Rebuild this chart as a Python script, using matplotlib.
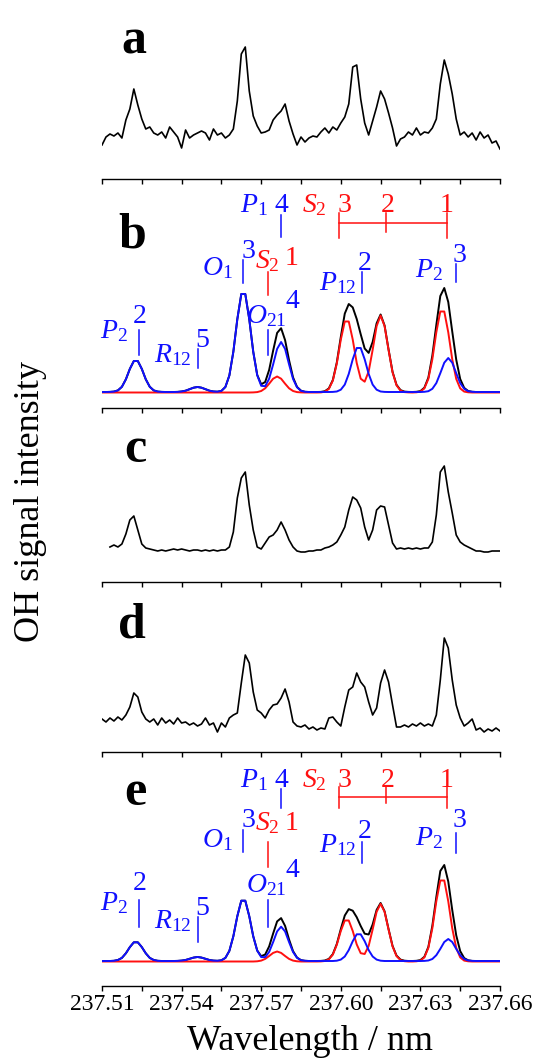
import numpy as np
import matplotlib
matplotlib.use("Agg")
import matplotlib.pyplot as plt
from matplotlib.ticker import FixedLocator

plt.rcParams['font.family'] = ['Liberation Serif', 'DejaVu Serif']
plt.rcParams['mathtext.fontset'] = 'custom'
plt.rcParams['mathtext.rm'] = 'Liberation Serif'
plt.rcParams['mathtext.it'] = 'Liberation Serif:italic'
plt.rcParams['mathtext.bf'] = 'Liberation Serif:bold'

# ---------------------------------------------------------------- data
# detector sampling: 101 points from 237.51 to 237.66 nm (step 0.0015 nm)
wavelength = np.linspace(237.51, 237.66, 101)

# measured LIF spectra (arb. units)
spec_a = [34, 42, 45, 43, 46, 41, 59, 70, 90, 74,
          60, 50, 52, 46, 44, 47, 41, 52, 47, 42,
          31, 49, 41, 44, 46, 48, 46, 39, 50, 44,
          46, 41, 44, 50, 78, 125, 132, 88, 63, 53,
          46, 47, 49, 59, 64, 68, 75, 58, 45, 34,
          42, 37, 41, 43, 42, 47, 51, 46, 52, 49,
          56, 62, 75, 112, 114, 80, 56, 44, 58, 72,
          88, 80, 66, 51, 33, 40, 42, 47, 44, 51,
          44, 47, 46, 51, 60, 95, 119, 105, 85, 60,
          44, 47, 42, 46, 39, 47, 41, 44, 36, 38,
          30]

# spectrum c starts at the third sample
spec_c = [35, 37, 35, 38, 48, 62, 66, 52,
          38, 34, 33, 32, 31, 32, 31, 32, 33, 32,
          33, 32, 31, 32, 32, 31, 32, 31, 32, 31,
          32, 32, 35, 50, 84, 104, 110, 77, 52, 35,
          33, 39, 45, 47, 52, 60, 52, 42, 35, 31,
          30, 30, 31, 31, 32, 32, 34, 35, 37, 40,
          47, 55, 72, 85, 82, 74, 55, 42, 52, 72,
          76, 75, 57, 39, 33, 34, 33, 34, 33, 34,
          33, 34, 34, 40, 67, 110, 116, 90, 69, 47,
          40, 37, 35, 33, 31, 31, 30, 30, 31, 31,
          31]

spec_d = [33, 30, 34, 31, 35, 32, 37, 45, 59, 55,
          40, 33, 30, 33, 27, 34, 29, 32, 28, 34,
          29, 30, 27, 29, 26, 28, 34, 27, 29, 20,
          29, 25, 34, 37, 39, 69, 97, 89, 60, 42,
          39, 34, 42, 47, 48, 54, 63, 50, 30, 26,
          25, 27, 23, 25, 22, 24, 23, 34, 35, 30,
          26, 45, 62, 65, 79, 70, 65, 50, 37, 44,
          69, 82, 70, 47, 25, 25, 27, 25, 28, 26,
          29, 26, 28, 26, 37, 72, 114, 104, 72, 47,
          34, 26, 29, 33, 22, 24, 20, 23, 21, 24,
          21]

# simulated spectra: blue / red components and their total (black)
sim_b_blue = [16, 16, 16.1, 16.4, 17.6, 21.2, 28.7, 39.1, 47.0, 47.0,
              39.1, 28.7, 21.2, 17.6, 16.4, 16.1, 16, 16, 16, 16.1,
              16.5, 17.3, 18.8, 20.3, 21.0, 20.3, 18.8, 17.3, 16.5, 16.3,
              17.1, 21.0, 32.5, 56.2, 88.8, 114.0, 114.0, 88.8, 56.2, 32.7,
              22.2, 21.8, 29.3, 43.6, 59.1, 66.0, 59.1, 43.6, 29.1, 20.7,
              17.2, 16.2, 16, 16, 16, 16, 16, 16, 16.1, 16.5,
              18.3, 23.4, 34.1, 48.7, 60.0, 60.0, 48.7, 34.1, 23.4, 18.3,
              16.5, 16.1, 16, 16, 16, 16, 16, 16, 16, 16,
              16, 16.2, 16.8, 19.2, 24.9, 34.8, 45.3, 50.0, 45.3, 34.8,
              24.9, 19.2, 16.8, 16.2, 16, 16, 16, 16, 16, 16,
              16]
sim_b_red = [15.5, 15.5, 15.5, 15.5, 15.5, 15.5, 15.5, 15.5, 15.5, 15.5,
             15.5, 15.5, 15.5, 15.5, 15.5, 15.5, 15.5, 15.5, 15.5, 15.5,
             15.5, 15.5, 15.5, 15.5, 15.5, 15.5, 15.5, 15.5, 15.5, 15.5,
             15.5, 15.5, 15.5, 15.5, 15.5, 15.5, 15.5, 15.5, 15.6, 15.9,
             17.0, 19.7, 24.3, 29.3, 31.5, 29.3, 24.3, 19.7, 17.0, 15.9,
             15.6, 15.5, 15.5, 15.5, 15.5, 15.6, 16.3, 19.1, 27.4, 44.6,
             68.3, 86.5, 86.5, 68.4, 45.0, 29.3, 26.3, 36.5, 58.1, 81.9,
             92.5, 81.9, 58.0, 35.7, 22.7, 17.4, 15.9, 15.6, 15.5, 15.7,
             16.4, 19.6, 29.1, 48.7, 75.7, 96.5, 96.5, 75.7, 48.7, 29.1,
             19.6, 16.4, 15.7, 15.5, 15.5, 15.5, 15.5, 15.5, 15.5, 15.5,
             15.5]
sim_b_total = [16, 16, 16.1, 16.4, 17.6, 21.2, 28.7, 39.1, 47.0, 47.0,
               39.1, 28.7, 21.2, 17.6, 16.4, 16.1, 16, 16, 16, 16.1,
               16.5, 17.3, 18.8, 20.3, 21.0, 20.3, 18.8, 17.3, 16.5, 16.3,
               17.1, 21.0, 32.5, 56.2, 88.8, 114.0, 114.0, 88.8, 56.3, 33.1,
               23.7, 26.0, 38.1, 57.4, 75.1, 79.8, 67.9, 47.8, 30.6, 21.1,
               17.3, 16.2, 16, 16, 16, 16.1, 16.8, 19.6, 28.0, 45.6,
               71.1, 94.4, 104.0, 100.6, 89.0, 73.8, 59.5, 55.1, 66.0, 84.7,
               93.5, 82.5, 58.5, 36.2, 23.2, 17.9, 16.4, 16.1, 16, 16.2,
               16.9, 20.3, 30.4, 52.4, 83.0, 112.0, 120.0, 106.0, 76.5, 48.4,
               29.0, 20.1, 17.0, 16.2, 16, 16, 16, 16, 16, 16,
               16]

sim_e_blue = [25, 25, 25.0, 25.2, 26.0, 28.1, 32.7, 38.9, 43.7, 43.7,
              38.9, 32.7, 28.1, 26.0, 25.2, 25.0, 25, 25, 25, 25.1,
              25.4, 26.0, 27.2, 28.4, 29.0, 28.4, 27.2, 26.0, 25.4, 25.2,
              25.7, 28.1, 35.1, 49.7, 69.8, 85.3, 85.3, 69.8, 49.7, 35.3,
              28.9, 28.9, 34.1, 43.9, 54.6, 59.3, 54.6, 43.9, 34.0, 28.2,
              25.8, 25.2, 25, 25, 25, 25, 25, 25, 25.0, 25.3,
              26.4, 29.5, 35.9, 44.8, 51.7, 51.7, 44.8, 35.9, 29.5, 26.4,
              25.3, 25.0, 25, 25, 25, 25, 25, 25, 25, 25,
              25, 25.1, 25.5, 27.0, 30.8, 37.1, 44.0, 47.0, 44.0, 37.1,
              30.8, 27.0, 25.5, 25.1, 25, 25, 25, 25, 25, 25,
              25]
sim_e_red = [24.5, 24.5, 24.5, 24.5, 24.5, 24.5, 24.5, 24.5, 24.5, 24.5,
             24.5, 24.5, 24.5, 24.5, 24.5, 24.5, 24.5, 24.5, 24.5, 24.5,
             24.5, 24.5, 24.5, 24.5, 24.5, 24.5, 24.5, 24.5, 24.5, 24.5,
             24.5, 24.5, 24.5, 24.5, 24.5, 24.5, 24.5, 24.5, 24.5, 24.7,
             25.4, 27.1, 30.0, 33.1, 34.5, 33.1, 30.0, 27.1, 25.4, 24.7,
             24.5, 24.5, 24.5, 24.5, 24.5, 24.6, 25.0, 26.6, 31.4, 41.3,
             55.0, 65.5, 65.5, 55.0, 41.6, 32.8, 32.0, 40.1, 56.5, 74.2,
             82.2, 74.2, 56.4, 39.6, 29.9, 25.9, 24.8, 24.5, 24.5, 24.7,
             25.4, 28.6, 38.1, 57.7, 84.7, 105.5, 105.5, 84.7, 57.7, 38.1,
             28.6, 25.4, 24.7, 24.5, 24.5, 24.5, 24.5, 24.5, 24.5, 24.5,
             24.5]
sim_e_total = [25, 25, 25.0, 25.2, 26.0, 28.1, 32.7, 38.9, 43.7, 43.7,
               38.9, 32.7, 28.1, 26.0, 25.2, 25.0, 25, 25, 25, 25.1,
               25.4, 26.0, 27.2, 28.4, 29.0, 28.4, 27.2, 26.0, 25.4, 25.2,
               25.7, 28.1, 35.1, 49.7, 69.8, 85.3, 85.3, 69.8, 49.7, 35.5,
               29.8, 31.5, 39.6, 52.5, 64.6, 67.9, 60.1, 46.5, 34.9, 28.4,
               25.8, 25.2, 25, 25, 25, 25.1, 25.5, 27.1, 31.9, 42.1,
               56.9, 70.5, 76.9, 75.3, 68.8, 60.0, 52.3, 51.5, 61.5, 76.1,
               83.0, 74.7, 56.9, 40.1, 30.4, 26.4, 25.3, 25.0, 25, 25.2,
               25.9, 29.2, 39.1, 60.2, 89.0, 115.0, 121.0, 104.5, 76.0, 50.7,
               34.9, 27.9, 25.7, 25.1, 25, 25, 25, 25, 25, 25,
               25]

major_ticks = [237.51, 237.54, 237.57, 237.60, 237.63, 237.66]
minor_ticks = [237.525, 237.555, 237.585, 237.615, 237.645]
tick_labels = ["237.51", "237.54", "237.57", "237.60", "237.63", "237.66"]

# ---------------------------------------------------------------- layout
W, H = 535, 1059
BLUE = '#1010ff'
RED = '#ff1010'
AX_H = 150  # axes height in pixels; y data are in the same units
FS_LAB = 20

fig = plt.figure(figsize=(W / 100, H / 100), dpi=100)


def make_axes(axis_y):
    ax = fig.add_axes([102 / W, 1 - axis_y / H, 398 / W, AX_H / H])
    ax.set_xlim(237.51, 237.66)
    ax.set_ylim(0, AX_H)
    ax.patch.set_alpha(0)
    for s in ('top', 'left', 'right'):
        ax.spines[s].set_visible(False)
    ax.spines['bottom'].set_linewidth(1.0)
    ax.set_yticks([])
    ax.xaxis.set_major_locator(FixedLocator(major_ticks))
    ax.xaxis.set_minor_locator(FixedLocator(minor_ticks))
    ax.tick_params(axis='x', which='both', direction='out', length=3.5,
                   width=1.0, labelbottom=False)
    return ax


def assign(ax, name, num, color, name_pos, num_pos, line_x, line_y):
    ax.text(*name_pos, name, color=color, fontsize=FS_LAB, ha='right', va='baseline')
    ax.text(*num_pos, num, color=color, fontsize=FS_LAB, ha='left', va='baseline')
    ax.plot([line_x, line_x], line_y, color=color, lw=1.1, clip_on=False)


def bracket(ax, h_name, h_bar, h_top, h_end, h_mid):
    ax.text(237.5948, h_name, r'$S_2$', color=RED, fontsize=FS_LAB, ha='right', va='baseline')
    for x, t in ((237.5986, '3'), (237.6152, '2'), (237.6372, '1')):
        ax.text(x, h_name, t, color=RED, fontsize=FS_LAB, ha='left', va='baseline')
    ax.plot([237.5994, 237.6399], [h_bar, h_bar], color=RED, lw=1.1, clip_on=False)
    ax.plot([237.5994, 237.5994], [h_top, h_end], color=RED, lw=1.1, clip_on=False)
    ax.plot([237.6170, 237.6170], [h_top, h_mid], color=RED, lw=1.1, clip_on=False)
    ax.plot([237.6399, 237.6399], [h_top, h_end], color=RED, lw=1.1, clip_on=False)


# panel a
ax_a = make_axes(179)
ax_a.plot(wavelength, spec_a, color='black', lw=1.2)

# panel b
ax_b = make_axes(408)
ax_b.plot(wavelength, sim_b_total, color='black', lw=1.4, zorder=1)
ax_b.plot(wavelength, sim_b_red, color=RED, lw=1.4, zorder=2)
ax_b.plot(wavelength, sim_b_blue, color=BLUE, lw=1.4, zorder=3)
assign(ax_b, r'$P_1$', '4', BLUE, (237.5724, 196), (237.5750, 196), 237.5773, (193, 171))
bracket(ax_b, 196, 185, 195, 170, 176)
assign(ax_b, r'$O_1$', '3', BLUE, (237.5594, 133), (237.5626, 150), 237.5633, (148, 125))
assign(ax_b, r'$S_2$', '1', RED, (237.5771, 140), (237.5790, 143), 237.5727, (136, 113))
assign(ax_b, r'$O_{21}$', '4', BLUE, (237.5797, 85), (237.5792, 100), 237.5727, (78, 53))
assign(ax_b, r'$P_{12}$', '2', BLUE, (237.6061, 118), (237.6065, 138), 237.6079, (136, 115))
assign(ax_b, r'$P_2$', '3', BLUE, (237.6385, 131), (237.6421, 146), 237.6434, (144, 126))
assign(ax_b, r'$P_2$', '2', BLUE, (237.5198, 70), (237.5215, 85), 237.5239, (78, 53))
assign(ax_b, r'$R_{12}$', '5', BLUE, (237.5439, 46), (237.5450, 61), 237.5463, (59, 40))

# panel c
ax_c = make_axes(582)
ax_c.plot(wavelength[2:], spec_c, color='black', lw=1.2)

# panel d
ax_d = make_axes(752)
ax_d.plot(wavelength, spec_d, color='black', lw=1.2)

# panel e
ax_e = make_axes(986)
ax_e.plot(wavelength, sim_e_total, color='black', lw=1.4, zorder=1)
ax_e.plot(wavelength, sim_e_red, color=RED, lw=1.4, zorder=2)
ax_e.plot(wavelength, sim_e_blue, color=BLUE, lw=1.4, zorder=3)
assign(ax_e, r'$P_1$', '4', BLUE, (237.5724, 199), (237.5750, 199), 237.5773, (197, 178))
bracket(ax_e, 199, 189, 199, 178, 183)
assign(ax_e, r'$O_1$', '3', BLUE, (237.5594, 139), (237.5626, 159), 237.5633, (156, 134))
assign(ax_e, r'$S_2$', '1', RED, (237.5771, 156), (237.5790, 156), 237.5727, (144, 119))
assign(ax_e, r'$O_{21}$', '4', BLUE, (237.5797, 94), (237.5792, 109), 237.5727, (86, 59))
assign(ax_e, r'$P_{12}$', '2', BLUE, (237.6061, 134), (237.6065, 148), 237.6079, (144, 123))
assign(ax_e, r'$P_2$', '3', BLUE, (237.6385, 141), (237.6421, 159), 237.6434, (153, 133))
assign(ax_e, r'$P_2$', '2', BLUE, (237.5198, 76), (237.5215, 96), 237.5239, (86, 59))
assign(ax_e, r'$R_{12}$', '5', BLUE, (237.5439, 58), (237.5450, 71), 237.5463, (69, 44))

ax_e.tick_params(axis='x', labelbottom=True, labelsize=17, pad=2)
ax_e.set_xticklabels(tick_labels)

# panel letters
for letter, (px, py) in zip('abcde', [(121, 53), (118, 247), (124, 462), (118, 637), (124, 805)]):
    fig.text(px / W, 1 - py / H, letter, fontsize=36, fontweight='bold',
             ha='left', va='baseline')

fig.text(310 / W, 1 - 1050 / H, 'Wavelength / nm', fontsize=26,
         ha='center', va='baseline')
fig.text(31 / W, 1 - 501 / H, 'OH signal intensity', fontsize=26,
         rotation=90, ha='center', va='center')

fig.savefig('out.png', dpi=100)
